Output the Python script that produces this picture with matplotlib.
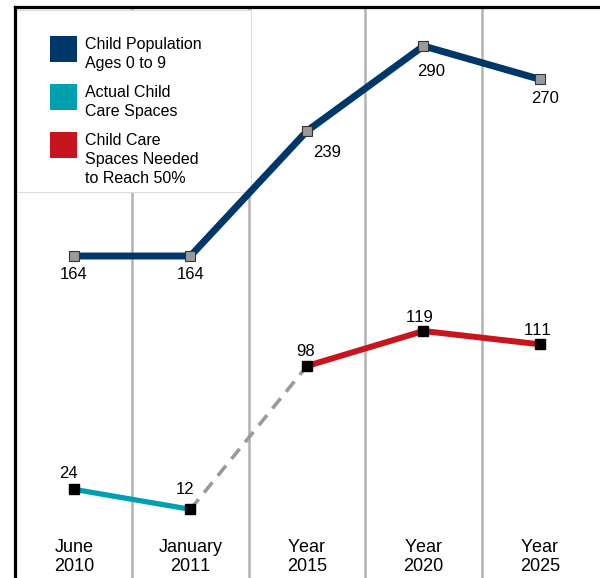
import matplotlib.pyplot as plt
from matplotlib.patches import Rectangle

plt.rcParams['font.family'] = ['Liberation Sans', 'DejaVu Sans']
plt.rcParams['text.kerning_factor'] = 12

categories = ['June\n2010', 'January\n2011', 'Year\n2015', 'Year\n2020', 'Year\n2025']
population = [164, 164, 239, 290, 270]
actual_x = [0, 1]
actual_spaces = [24, 12]
needed_x = [2, 3, 4]
needed_spaces = [98, 119, 111]
bridge_x = [1, 2]
bridge_vals = [12, 98]

blue = '#00376b'
teal = '#00a0b0'
red = '#c8151d'

W, H = 600, 578
fig = plt.figure(figsize=(W / 100, H / 100), dpi=100)
ax = fig.add_axes([15 / W, 0, 1 - 15 / W, (H - 7) / H])
ax.set_xlim(-0.506, 4.515)
ax.set_ylim(-29.2, 313.4)
ax.set_xticks([])
ax.set_yticks([])
for s in ['right', 'bottom']:
    ax.spines[s].set_visible(False)
for s in ['left', 'top']:
    ax.spines[s].set_linewidth(2.3)
    ax.spines[s].set_color('black')
    ax.spines[s].set_zorder(10)

# separators between the periods
for i in range(len(categories) - 1):
    ax.axvline(i + 0.5, color='#b3b3b3', lw=1.8, zorder=1)

# legend panel sits over the first separator, under the lines
ax.add_patch(Rectangle((15 / W, 1 - 192 / H), 236 / W, 182 / H,
                       transform=fig.transFigure, facecolor='white',
                       edgecolor='#dcdcdc', lw=0.8, zorder=2, clip_on=False))

x_pop = list(range(len(population)))
ax.plot(x_pop, population, color=blue, lw=5, zorder=3, solid_capstyle='butt')
ax.plot(x_pop, population, ls='none', marker='s', ms=7, mfc='#9a9a9a',
        mec='#333333', mew=0.8, zorder=4)

ax.plot(bridge_x, bridge_vals, color='#9a9a9a', lw=2.6, zorder=3,
        dashes=(3.6, 2.4), dash_capstyle='butt')
ax.plot(actual_x, actual_spaces, color=teal, lw=3.8, zorder=3)
ax.plot(needed_x, needed_spaces, color=red, lw=4.3, zorder=3)
ax.plot(actual_x + needed_x, actual_spaces + needed_spaces, ls='none',
        marker='s', ms=7, mfc='black', mec='black', zorder=4)

pop_off = [(0, -19), (0, -19), (20, -22), (8, -26), (5, -19)]
for x, v, off in zip(x_pop, population, pop_off):
    ax.annotate(str(v), (x, v), xytext=off, textcoords='offset pixels',
                ha='center', va='center', fontsize=12, zorder=5)

act_off = [(-6, 16), (-5, 20)]
for x, v, off in zip(actual_x, actual_spaces, act_off):
    ax.annotate(str(v), (x, v), xytext=off, textcoords='offset pixels',
                ha='center', va='center', fontsize=12, zorder=5)

need_off = [(-1, 14), (-4, 13), (-2, 14)]
for x, v, off in zip(needed_x, needed_spaces, need_off):
    ax.annotate(str(v), (x, v), xytext=off, textcoords='offset pixels',
                ha='center', va='center', fontsize=12, zorder=5)

for i, c in enumerate(categories):
    ax.text(i, -16.5, c, ha='center', va='center', fontsize=13,
            linespacing=1.15, zorder=5)

# legend entries
legend_items = [
    (blue, 'Child Population\nAges 0 to 9', 36),
    (teal, 'Actual Child\nCare Spaces', 84),
    (red, 'Child Care\nSpaces Needed\nto Reach 50%', 132),
]
for color, label, top in legend_items:
    ax.add_patch(Rectangle((50 / W, 1 - (top + 26) / H), 27 / W, 26 / H,
                           transform=fig.transFigure, facecolor=color,
                           edgecolor='none', zorder=3, clip_on=False))
    fig.text(85 / W, 1 - (top + 1) / H, label, ha='left', va='top',
             fontsize=11.5, linespacing=1.33, zorder=4)

fig.savefig('out.png', dpi=100)
